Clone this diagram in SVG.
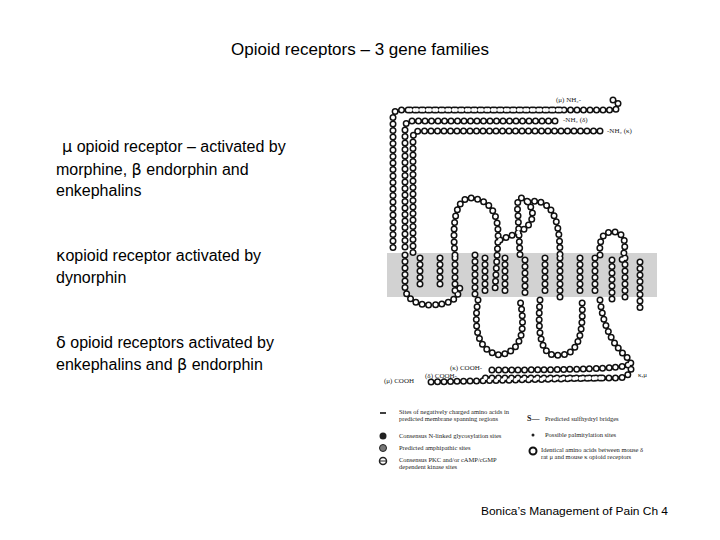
<svg xmlns="http://www.w3.org/2000/svg" width="720" height="540" viewBox="0 0 720 540">
<style>
.t{font-family:"Liberation Sans",Arial,sans-serif;font-size:16px;fill:#000}
.s{font-family:"Liberation Serif",serif;font-size:6.5px;fill:#222}
.b1{fill:none;stroke:#111;stroke-width:7;stroke-linecap:round;stroke-dasharray:0 6.5}
.b2{fill:none;stroke:#fff;stroke-width:4;stroke-linecap:round;stroke-dasharray:0 6.5}
</style>
<defs>
<g id="chains">
<path d="M613,100 C620,100 620,110 613,110 L400,110 Q393,110 393,117 L393,248"/>
<path d="M560,110 L410,110"/>
<path d="M555,121 L412,121 Q405,121 405,128 L405,250"/>
<path d="M600,131 L420,131 Q413,131 413,138 L413,255"/>
<path d="M405,255 L405,290 Q410,305 430,305 Q460,305 460,285"/>
<path d="M420,258 L420,290 M440,258 L440,290 M455,258 L455,295"/>
<path d="M455,255 Q450,200 470,198 Q500,200 498,240 L495,290"/>
<path d="M475,255 L475,295 M485,258 L485,295 M505,258 L505,295"/>
<path d="M478,300 Q470,350 500,355 Q530,350 520,300"/>
<path d="M500,240 L520,232 Q540,220 528,202 Q515,190 518,215 L520,255"/>
<path d="M528,202 Q560,195 560,255"/>
<path d="M525,260 L525,295 M545,258 L545,295 M560,258 L560,300"/>
<path d="M540,300 Q535,360 560,355 Q585,355 582,300"/>
<path d="M580,258 L580,295 M595,258 L595,295"/>
<path d="M600,255 Q598,230 615,232 Q630,235 622,260"/>
<path d="M612,260 L612,300 M625,258 L625,300 M640,262 L640,310"/>
<path d="M600,300 Q605,340 630,360 Q635,375 620,378 L480,378"/>
<path d="M628,365 Q620,370 490,370"/>
<path d="M600,378 L430,382"/>
</g>
</defs>
<rect width="720" height="540" fill="#fff"/>
<text class="t" x="360" y="55" text-anchor="middle" style="font-size:17px">Opioid receptors – 3 gene families</text>
<text class="t" x="62" y="152"><tspan font-family="DejaVu Sans">μ</tspan> opioid  receptor – activated by</text>
<text class="t" x="56" y="175">morphine, <tspan font-family="DejaVu Sans">β</tspan> endorphin and</text>
<text class="t" x="56" y="196">enkephalins</text>
<text class="t" x="56" y="261"><tspan font-family="DejaVu Sans">κ</tspan>opioid receptor activated by</text>
<text class="t" x="56" y="283">dynorphin</text>
<text class="t" x="56" y="348"><tspan font-family="DejaVu Sans">δ</tspan> opioid receptors activated by</text>
<text class="t" x="56" y="370">enkephalins and <tspan font-family="DejaVu Sans">β</tspan> endorphin</text>
<g id="membrane"><rect x="387" y="253" width="270" height="44" fill="#d2d2d2"/></g>
<g id="connectors">
<use href="#chains" class="b1"/>
<use href="#chains" class="b2"/>
</g>
<g id="labels">
<text class="s" x="556" y="102" style="font-size:7px">(μ) NH₂-</text>
<text class="s" x="563" y="122" style="font-size:7px">-NH₂ (δ)</text>
<text class="s" x="607" y="133" style="font-size:7px">-NH₂ (κ)</text>
<text class="s" x="450" y="370" style="font-size:7px">(κ) COOH-</text>
<text class="s" x="425" y="378" style="font-size:7px">(δ) COOH-</text>
<text class="s" x="384" y="383" style="font-size:7px">(μ) COOH</text>
<text class="s" x="638" y="377" style="font-size:7px">κ,μ</text>
</g>
<g id="legend">
<line x1="380" y1="413" x2="386" y2="413" stroke="#000" stroke-width="1.5"/>
<text class="s" x="399" y="414">Sites of negatively charged amino acids in</text>
<text class="s" x="399" y="421">predicted membrane spanning regions</text>
<circle cx="383" cy="436" r="3.5" fill="#222"/>
<text class="s" x="399" y="438">Consensus N-linked glycosylation sites</text>
<circle cx="383" cy="448" r="3.5" fill="#777" stroke="#222"/>
<text class="s" x="399" y="450">Predicted amphipathic sites</text>
<circle cx="383" cy="461" r="3.5" fill="#fff" stroke="#222" stroke-width="1.5"/><line x1="380" y1="461" x2="386" y2="461" stroke="#222"/>
<text class="s" x="399" y="462">Consensus PKC and/or cAMP/cGMP</text>
<text class="s" x="399" y="469">dependent kinase sites</text>
<text class="s" x="527" y="421" style="font-size:8px;font-weight:bold">S—</text>
<text class="s" x="545" y="421">Predicted sulfhydryl bridges</text>
<circle cx="533" cy="435" r="1.5" fill="#222"/>
<text class="s" x="545" y="437">Possible palmitylation sites</text>
<circle cx="533" cy="451" r="3.5" fill="#fff" stroke="#111" stroke-width="2"/>
<text class="s" x="541" y="452">Identical amino acids between mouse δ</text>
<text class="s" x="541" y="459">rat μ and mouse κ opioid receptors</text>
</g>
<text class="t" x="481" y="515" textLength="187" lengthAdjust="spacingAndGlyphs" style="font-size:11px">Bonica’s Management of Pain Ch 4</text>
</svg>
